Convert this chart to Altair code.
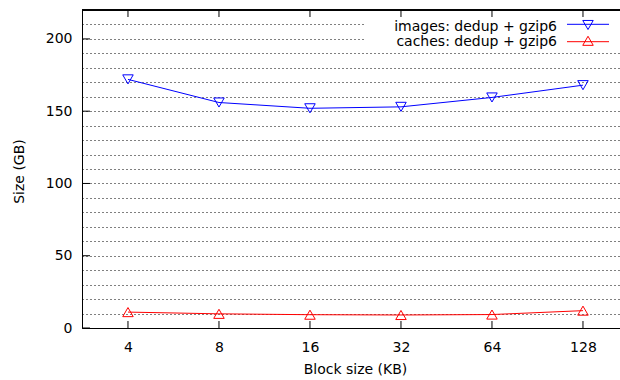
import altair as alt
import pandas as pd

# ---- data ----
block_sizes = [4, 8, 16, 32, 64, 128]
images_gb = [172, 156, 152, 153, 159.5, 168]
caches_gb = [11, 9.8, 9.2, 9.0, 9.3, 12]
series_names = ["images: dedup + gzip6", "caches: dedup + gzip6"]
series_colors = ["#0000ff", "#ff0000"]
series_shapes = ["triangle-down", "triangle-up"]
y_grid_values = [0, 10, 20, 30, 40, 50, 60, 70, 80, 90, 100, 110, 120, 130,
                 140, 150, 160, 170, 180, 190, 200, 210]
y_major_ticks = [0, 50, 100, 150, 200]

# ---- layout ----
W, H = 538, 318
FONT = "DejaVu Sans"
FS = 14

rows = []
for name, vals in zip(series_names, [images_gb, caches_gb]):
    for b, v in zip(block_sizes, vals):
        rows.append({"series": name, "block": b, "size": v})
df = pd.DataFrame(rows)

xscale = alt.Scale(type="log", base=2, domain=[2.818, 169.7], nice=False)
yscale = alt.Scale(domain=[0, 220], nice=False, zero=False)
cscale = alt.Scale(domain=series_names, range=series_colors)
sscale = alt.Scale(domain=series_names, range=series_shapes)

xaxis = alt.Axis(values=block_sizes, format="d", ticks=False, grid=False,
                 domainColor="black", labelPadding=12, labelFontSize=FS,
                 labelColor="black", labelFlush=False, labelOverlap=False,
                 title="Block size (KB)", titleFontSize=FS, titleFontWeight="normal",
                 titleColor="black", titleX=273, titleY=41, titleBaseline="middle",
                 titleAlign="center")
yaxis = alt.Axis(values=y_grid_values,
                 labelExpr="datum.value % 50 == 0 ? datum.label : ''",
                 ticks=False, grid=True, gridDash=[1, 3], gridColor="black",
                 gridOpacity=1, gridWidth=1, domainColor="black",
                 labelPadding=10, labelFontSize=FS, labelColor="black",
                 labelOverlap=False, labelFlush=False,
                 title="Size (GB)", titleFontSize=FS, titleFontWeight="normal",
                 titleColor="black", titleX=-63, titleY=161, titleBaseline="middle",
                 titleAlign="center", titleAngle=270)

X = lambda f: alt.X(f, scale=xscale, axis=xaxis)
Y = lambda f: alt.Y(f, scale=yscale, axis=yaxis)

base = alt.Chart(df)

lines = base.mark_line(strokeWidth=1).encode(
    x=X("block:Q"), y=Y("size:Q"),
    color=alt.Color("series:N", scale=cscale, legend=None),
    detail="series:N",
)
points = base.mark_point(filled=False, size=110, strokeWidth=1, opacity=1).encode(
    x=X("block:Q"), y=Y("size:Q"),
    color=alt.Color("series:N", scale=cscale, legend=None),
    shape=alt.Shape("series:N", scale=sscale, legend=None),
)

# inward tick marks (gnuplot style)
ytick_df = pd.DataFrame({"size": y_major_ticks})
yticks = alt.Chart(ytick_df).mark_rule(color="black", strokeWidth=1).encode(
    y=Y("size:Q"),
    x=alt.value(0), x2=alt.value(8),
)
xtick_df = pd.DataFrame({"block": block_sizes})
xticks_bottom = alt.Chart(xtick_df).mark_rule(color="black", strokeWidth=1).encode(
    x=X("block:Q"),
    y=alt.value(H - 7), y2=alt.value(H),
)
xticks_top = alt.Chart(xtick_df).mark_rule(color="black", strokeWidth=1).encode(
    x=X("block:Q"),
    y=alt.value(0), y2=alt.value(7),
)
top_border = alt.Chart(xtick_df).mark_rule(color="black", strokeWidth=1).encode(
    x=alt.value(0), x2=alt.value(W), y=alt.value(0),
)

# legend (text on the left, sample on the right, opaque box)
leg_df = pd.DataFrame({"series": series_names})
legend_box = alt.Chart(leg_df).mark_rect(color="white").encode(
    x=alt.value(283), x2=alt.value(W), y=alt.value(8), y2=alt.value(41),
)
legend_layers = []
text_y = [20.5, 36.2]
line_y = [14.3, 31.7]
mark_y = [15.0, 30.8]
for i, name in enumerate(series_names):
    d = alt.Chart(pd.DataFrame({"series": [name]}))
    legend_layers.append(d.mark_text(align="right", baseline="alphabetic",
                                     fontSize=FS, font=FONT, color="black").encode(
        x=alt.value(475), y=alt.value(text_y[i]), text="series:N"))
    legend_layers.append(d.mark_rule(color=series_colors[i], strokeWidth=1).encode(
        x=alt.value(485), x2=alt.value(527), y=alt.value(line_y[i])))
    legend_layers.append(d.mark_point(filled=False, size=110, strokeWidth=1, opacity=1,
                                      shape=series_shapes[i], color=series_colors[i]).encode(
        x=alt.value(506), y=alt.value(mark_y[i])))

chart = alt.layer(
    lines, points, legend_box, yticks, xticks_bottom, xticks_top, top_border,
    *legend_layers
).properties(
    width=W, height=H,
    padding={"left": 82, "top": 10, "right": 0, "bottom": 52},
    autosize=alt.AutoSizeParams(type="none"),
).configure(font=FONT).configure_view(stroke=None)

chart.save("out.html", embed_options={"renderer": "svg", "actions": False})
